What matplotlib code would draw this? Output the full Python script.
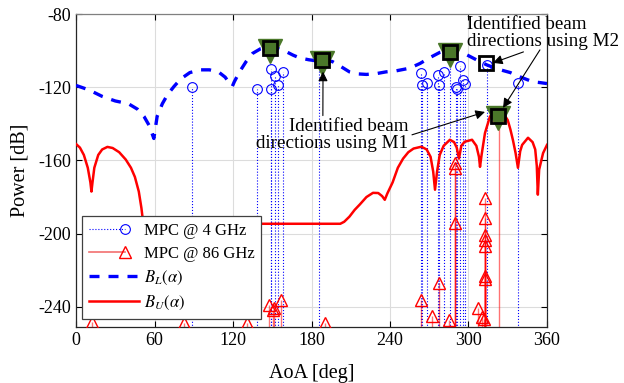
import numpy as np
import matplotlib.pyplot as plt
from matplotlib.lines import Line2D
from matplotlib.legend_handler import HandlerLine2D

plt.rcParams['font.family'] = ['Liberation Serif', 'DejaVu Serif']
plt.rcParams['mathtext.fontset'] = 'stix'
plt.rcParams['axes.unicode_minus'] = False

# lower bound B_L(alpha), traced
bl_aoa = [0, 10, 20, 30, 40, 47, 52, 56, 59.5, 62, 66, 70, 75, 80, 87, 95, 102, 109, 114, 118,
          119.5, 121, 125, 130, 135, 141, 148, 155, 161, 166, 171, 178, 184, 190, 196, 202, 209,
          215, 222, 230, 237, 245, 255, 263, 270, 278, 285, 292, 299, 306, 314, 322, 332, 340,
          349, 355, 360]
bl_pow = [-119, -121.5, -125, -127.5, -129, -132, -136, -141, -148, -136, -129, -124, -119.5,
          -115.5, -112, -110.5, -110.5, -111.7, -114.5, -118.5, -119.5, -117, -111.6, -106,
          -101.5, -99, -98, -99, -100.7, -102.5, -104, -105, -105.6, -105, -106, -108.5, -111.6,
          -112.7, -113, -112.5, -111.6, -111, -109.6, -107, -104, -101, -99.6, -100.5, -102.4,
          -105, -107.8, -110, -112, -114.5, -117, -117.5, -118]

# upper bound B_U(alpha), traced
bu_aoa = [0, 3, 6, 9, 11, 11.8, 12.6, 14, 17, 20, 24, 28, 33, 38, 42, 45, 48, 50, 51, 52, 202,
          205, 209, 213, 217, 222, 227, 231, 234, 236, 238, 242, 246, 250, 254, 258, 264, 268,
          271, 273, 274.4, 276, 278, 281, 285.8, 289, 291, 292.7, 294.5, 297, 302.7, 306, 308,
          308.8, 310, 312.6, 316.4, 320, 323, 326, 330, 332, 334, 336, 337.8, 339.5, 341,
          345.5, 349, 351, 352.2, 353, 354, 357, 360]
bu_pow = [-151, -153, -157, -164, -172, -177, -172, -164, -157, -154, -152.6, -153.2, -155.5,
          -159.5, -164, -169, -177, -186, -192, -194.6, -194.6, -193.5, -190.7, -187, -184,
          -180, -177.7, -177.8, -179.5, -181.5, -178, -172, -164, -159, -155.5, -153.5, -152.5,
          -154, -158, -166, -176, -166, -157, -152, -148.7, -150, -153, -159, -152, -149.8,
          -148.7, -152, -158, -163.5, -157, -145, -136, -133, -132.4, -133.5, -138, -143, -149,
          -156, -164, -155, -151.5, -147.6, -150, -154, -163, -178.7, -165, -156, -151.5]

# MPCs at 4 GHz
f4_aoa = [88.7, 138.3, 149, 149.3, 152, 154.4, 158, 186, 264, 264.8, 268, 277, 277.8, 281.5,
          286, 290.5, 291.2, 293.5, 295.5, 297, 314, 337.5]
f4_pow = [-120, -121, -110, -121, -114, -118.7, -111.6, -105, -112, -119, -117.7, -113.3,
          -118.7, -111.6, -100.7, -120, -121, -108.5, -116, -118, -108, -117.5]

# MPCs at 86 GHz
f86_aoa = [12, 82.5, 131, 147.5, 150.5, 151.5, 156.5, 190, 263.7, 272, 277.5, 285, 289.7, 289.7,
           289.7, 307, 310, 312, 312.3, 312.3, 312.3, 312.3, 312.3, 312.3, 312.3, 323]
f86_pow = [-248, -248.6, -248.6, -239, -241.5, -240.5, -236, -249, -236, -244.8, -226.7, -247,
           -161.5, -164, -194, -240.6, -245.5, -246.5, -180.5, -191.5, -201, -203.5, -206.5,
           -223, -224.5, -135]

# identified beam directions
m1_aoa = [148.5, 188, 285.5, 322.8]
m1_pow = [-98.5, -105, -100.7, -135.5]
m2_aoa = [148.5, 188, 285.5, 313.4, 322.8]
m2_pow = [-98.5, -105, -100.7, -106.8, -135.5]

green = '#4a7729'
ybot = -260


class EndMarker(HandlerLine2D):
    # line with the marker near its right end, like the MATLAB stem legend
    def create_artists(self, legend, orig_handle, xdescent, ydescent, width, height, fontsize, trans):
        y = (height - ydescent) / 2
        xm = -xdescent + 0.72 * width
        line = Line2D([-xdescent, xm], [y, y])
        self.update_prop(line, orig_handle, legend)
        line.set_marker('None')
        mark = Line2D([xm], [y])
        self.update_prop(mark, orig_handle, legend)
        mark.set_linestyle('None')
        line.set_transform(trans)
        mark.set_transform(trans)
        return [line, mark]


fig = plt.figure(figsize=(6.24, 3.83), dpi=100)
ax = fig.add_axes([0.1218, 0.1462, 0.7548, 0.8172])

ax.vlines(f4_aoa, ybot, f4_pow, colors='blue', linestyles=':', lw=0.8, zorder=2)
ax.plot(f4_aoa, f4_pow, 'o', mfc='none', mec='blue', ms=7, mew=0.8, zorder=3)

ax.vlines(f86_aoa, ybot, f86_pow, colors='red', lw=1, alpha=0.55, zorder=2)
ax.plot(f86_aoa, f86_pow, '^', mfc='none', mec='red', ms=8, mew=1, zorder=3)

ax.plot(bl_aoa, bl_pow, color='blue', lw=2.4, ls=(0, (3, 2.7)), zorder=4)
ax.plot(bu_aoa, bu_pow, color='red', lw=1.8, zorder=4)

ax.plot(m1_aoa, [p - 1.5 for p in m1_pow], 'v', color=green, ms=17, zorder=5)
ax.plot(m2_aoa, m2_pow, 's', mfc='none', mec='k', ms=10, mew=2, zorder=6)

ax.set_xlim(0, 360)
ax.set_ylim(-251, -80)
ax.set_xticks(np.arange(0, 361, 60))
ax.set_yticks(np.arange(-240, -79, 40))
ax.tick_params(direction='in', top=True, right=True, length=4, labelsize=13, width=0.8)
ax.grid(True, color='#dcdcdc', lw=0.8)
ax.set_axisbelow(True)
for s in ax.spines.values():
    s.set_linewidth(0.9)
    s.set_color('#262626')
ax.spines['top'].set_color('#808080')
ax.set_xlabel('AoA [deg]', fontsize=14.5, labelpad=11)
ax.set_ylabel('Power [dB]', fontsize=14.5, labelpad=6)

# annotations
arr = dict(arrowstyle='-|>', color='k', lw=0.8, shrinkA=0, shrinkB=0, mutation_scale=14)
ax.annotate('Identified beam\ndirections using M1', xy=(188.8, -111.5), xytext=(253.8, -146.3),
            ha='right', va='center', multialignment='right', fontsize=13.7, linespacing=1.0,
            arrowprops=dict(arr, relpos=(0.44, 1.0)), zorder=7)
ax.annotate('', xy=(312.6, -133.5), xytext=(256.8, -146), arrowprops=arr, zorder=7)
ax.annotate('Identified beam\ndirections using M2', xy=(318.7, -106.7), xytext=(298.9, -90.6),
            ha='left', va='center', multialignment='left', fontsize=13.7, linespacing=1.0,
            annotation_clip=False, zorder=7)
ax.annotate('', xy=(318.7, -106.7), xytext=(342, -100.7), arrowprops=arr, zorder=7)
ax.annotate('', xy=(326.4, -131.3), xytext=(354.6, -99.6), arrowprops=arr, zorder=7)

handles = [
    Line2D([], [], color='blue', ls=':', lw=0.8, marker='o', mfc='none', mec='blue', ms=7, mew=0.8),
    Line2D([], [], color='#f27070', lw=1.2, marker='^', mfc='none', mec='red', ms=8, mew=1),
    Line2D([], [], color='blue', lw=2.4, ls=(0, (3, 2.7))),
    Line2D([], [], color='red', lw=1.8),
]
labels = ['MPC @ 4 GHz', 'MPC @ 86 GHz', r'$B_L(\alpha)$', r'$B_U(\alpha)$']
leg = ax.legend(handles, labels, loc='lower left', bbox_to_anchor=(0.0127, 0.0256),
                borderaxespad=0, fontsize=12, fancybox=False, framealpha=1,
                edgecolor='#404040', handlelength=3.0, handletextpad=0.3, labelspacing=0.42,
                borderpad=0.4,
                handler_map={handles[0]: EndMarker(), handles[1]: EndMarker()})
leg.get_frame().set_linewidth(0.9)
leg.set_zorder(8)

fig.savefig('out.png', dpi=100)
